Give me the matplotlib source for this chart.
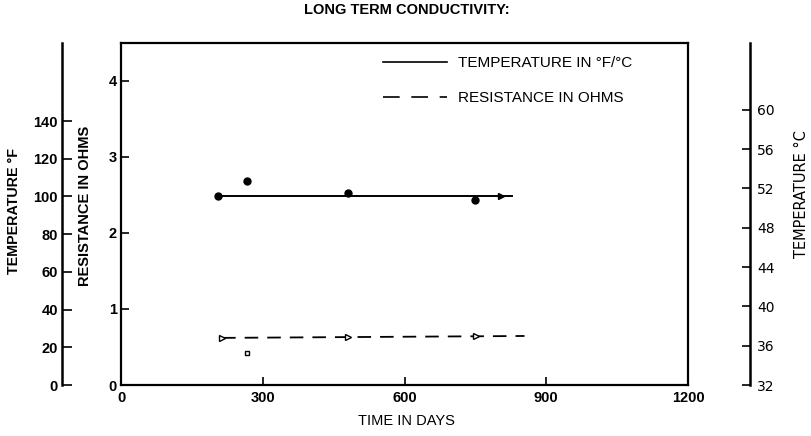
"""Long term conductivity chart."""

import matplotlib

matplotlib.use("Agg")
import matplotlib.pyplot as plt
from matplotlib.lines import Line2D

# temperature readings (deg F) over time
temp_days = [206, 267, 481, 749]
temp_f = [100, 108, 102, 98]
temp_end_day = [805]
temp_end_f = [100]
temp_line_days = [206, 827]
temp_line_f = [100, 100]

# resistance readings (ohms)
res_days = [214, 481, 752]
res_ohms = [0.62, 0.63, 0.64]
res_line_days = [214, 854]
res_line_ohms = [0.62, 0.645]
res_odd_day = [267]
res_odd_ohms = [0.42]

x_ticks = [0, 300, 600, 900, 1200]
res_ticks = [0, 1, 2, 3, 4]
f_ticks = [0, 20, 40, 60, 80, 100, 120, 140]
c_ticks = [32, 36, 40, 44, 48, 52, 56, 60]

plt.rcParams["font.family"] = ["Liberation Sans", "DejaVu Sans"]

W, H = 811, 436
fig = plt.figure(figsize=(W / 100, H / 100), dpi=100)
x0, x1, y0, y1 = 121, 688, 385, 43
ax = fig.add_axes([x0 / W, 1 - y0 / H, (x1 - x0) / W, (y0 - y1) / H])

ax.set_xlim(0, 1200)
ax.set_ylim(0, 4.5)
ax.set_xticks(x_ticks)
ax.set_yticks(res_ticks)
ax.tick_params(direction="in", length=6, width=1.2, top=False, right=False,
               labelsize=10.5)
ax.tick_params(axis="x", pad=4)
ax.tick_params(axis="y", pad=3)
for lbl in ax.get_xticklabels() + ax.get_yticklabels():
    lbl.set_fontweight("bold")
for sp in ax.spines.values():
    sp.set_linewidth(1.6)

# deg F axis on the far left
ax_f = ax.twinx()
ax_f.set_ylim(0, 181.4)
ax_f.yaxis.set_ticks_position("left")
ax_f.spines["left"].set_position(("axes", (62 - x0) / (x1 - x0)))
ax_f.spines["left"].set_linewidth(1.8)
for s in ["right", "top", "bottom"]:
    ax_f.spines[s].set_visible(False)
ax_f.set_yticks(f_ticks)
ax_f.tick_params(axis="y", direction="in", length=7, width=1.2, labelsize=10.5, pad=3)
for lbl in ax_f.get_yticklabels():
    lbl.set_fontweight("bold")

# deg C axis on the far right
ax_c = ax.twinx()
ax_c.set_ylim(32, 66.8)
ax_c.spines["right"].set_position(("axes", (750 - x0) / (x1 - x0)))
ax_c.spines["right"].set_linewidth(1.8)
for s in ["left", "top", "bottom"]:
    ax_c.spines[s].set_visible(False)
ax_c.set_yticks(c_ticks)
ax_c.tick_params(axis="y", direction="in", length=6, width=1.2, labelsize=10, pad=5)
for lbl in ax_c.get_yticklabels():
    lbl.set_family("DejaVu Sans")

# data
ax_f.plot(temp_line_days, temp_line_f, color="black", lw=1.4)
ax_f.plot(temp_days, temp_f, "o", color="black", ms=5)
ax_f.plot(temp_end_day, temp_end_f, ">", color="black", ms=5)

ax.plot(res_line_days, res_line_ohms, color="black", lw=1.3, ls=(0, (7.5, 5)))
ax.plot(res_days, res_ohms, ">", mfc="white", mec="black", ms=4.5, mew=1)
ax.plot(res_odd_day, res_odd_ohms, "s", mfc="white", mec="black", ms=3.5, mew=1)

handles = [
    Line2D([], [], color="black", lw=1.2),
    Line2D([], [], color="black", lw=1.2, ls=(0, (10, 7))),
]
ax.legend(
    handles,
    ["TEMPERATURE IN °F/°C", "RESISTANCE IN OHMS"],
    loc="upper left",
    bbox_to_anchor=((383 - x0) / (x1 - x0), (y0 - 56) / (y0 - y1)),
    frameon=False,
    fontsize=11,
    borderpad=0,
    borderaxespad=0,
    handlelength=4.2,
    handletextpad=0.7,
    labelspacing=1.4,
)

fig.text(407 / W, 1 - 10 / H, "LONG TERM CONDUCTIVITY:", ha="center", va="center",
         fontsize=10.5, fontweight="bold")
fig.text(406 / W, 1 - 421 / H, "TIME IN DAYS", ha="center", va="center", fontsize=10.5)
fig.text(14 / W, 1 - 211 / H, "TEMPERATURE °F", ha="center", va="center",
         rotation=90, fontsize=10.3, fontweight="bold")
fig.text(85 / W, 1 - 206 / H, "RESISTANCE IN OHMS", ha="center", va="center",
         rotation=90, fontsize=10.5, fontweight="bold")
fig.text(802 / W, 1 - 194 / H, "TEMPERATURE °C", ha="center", va="center",
         rotation=90, fontsize=10.5, family="DejaVu Sans")

fig.savefig("out.png", dpi=100)
